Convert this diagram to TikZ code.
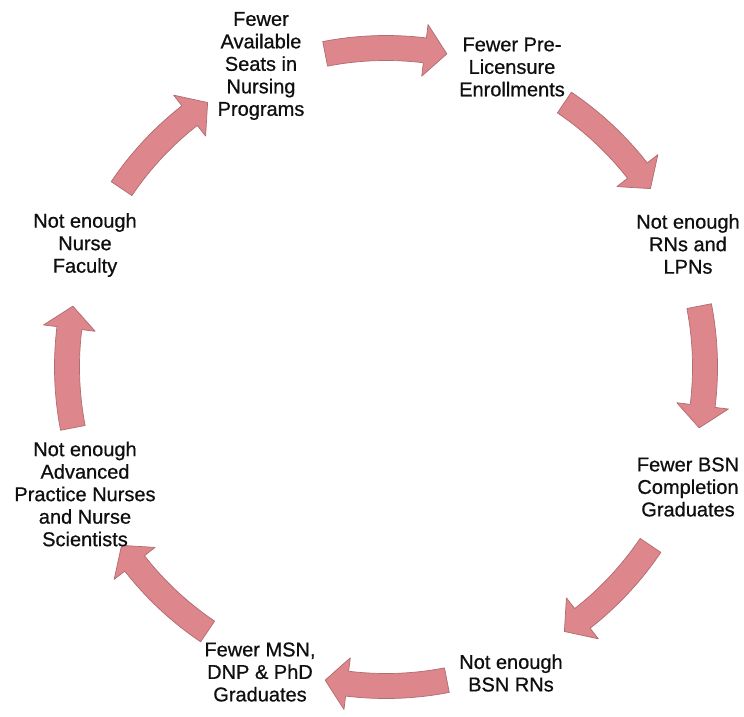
\documentclass[tikz,border=0pt]{standalone}
\usepackage{fontspec}
\setmainfont{Liberation Sans}
\newfontfamily\lblfont{Liberation Sans}[FakeBold=0.7]
\definecolor{arrowfill}{RGB}{221,134,139}
\definecolor{arrowline}{RGB}{176,108,112}
\definecolor{txt}{RGB}{15,15,15}
\tikzset{
  lbl/.style={align=center, text=txt, inner sep=0pt, font=\lblfont\fontsize{20}{22.5}\selectfont},
  cyclearrow/.style={fill=arrowfill, draw=arrowline, line width=0.7pt, line join=round}
}
\begin{document}
\begin{tikzpicture}[x=1pt,y=1pt]
\useasboundingbox (0,0) rectangle (744,-717);
\fill[white] (0,0) rectangle (744,-717);
\coordinate (C) at (386,-367);
% curved block arrows around the cycle
\begin{scope}[shift={(C)}]
\foreach \a in {90,45,0,-45,-90,-135,180,135} {
  \pgfmathsetmacro\angA{\a+11}
  \pgfmathsetmacro\angB{\a-7}
  \pgfmathsetmacro\angC{\a-11}
  \filldraw[cyclearrow] (\angA:306.5pt) arc[start angle=\angA, end angle=\angB, radius=306.5pt]
    -- (\angB:293pt) -- (\angC:319pt) -- (\angB:345pt) -- (\angB:331.5pt)
    arc[start angle=\angB, end angle=\angA, radius=331.5pt] -- cycle;
}
\end{scope}
% labels
\node[lbl] (seats)   at (261,-66)  {Fewer\\Available\\Seats in\\Nursing\\Programs};
\node[lbl] (prelic)  at (512,-67)  {Fewer Pre-\\Licensure\\Enrollments};
\node[lbl] (rns)     at (688,-244) {Not enough\\RNs and\\LPNs};
\node[lbl] (bsncomp) at (688,-487) {Fewer BSN\\Completion\\Graduates};
\node[lbl] (bsnrns)  at (511,-673) {Not enough\\BSN RNs};
\node[lbl] (msn)     at (260,-672) {Fewer MSN,\\DNP \& PhD\\Graduates};
\node[lbl] (apn)     at (85,-494)  {Not enough\\Advanced\\Practice Nurses\\and Nurse\\Scientists};
\node[lbl] (faculty) at (85,-245)  {Not enough\\Nurse\\Faculty};
\end{tikzpicture}
\end{document}
